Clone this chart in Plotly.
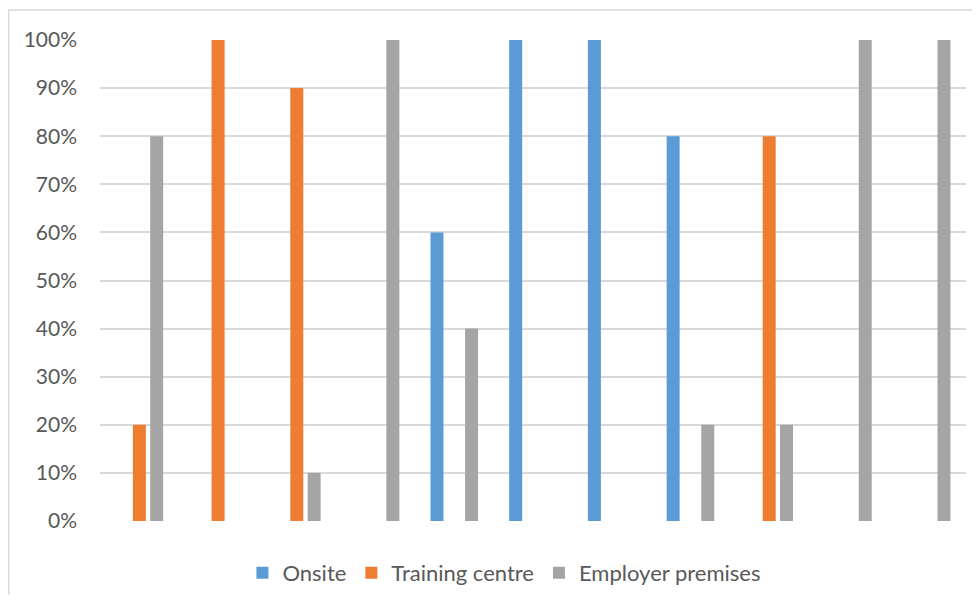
import plotly.graph_objects as go

categories = ["1", "2", "3", "4", "5", "6", "7", "8", "9", "10", "11"]
series_names = ["Onsite", "Training centre", "Employer premises"]
onsite = [0, 0, 0, 0, 0.6, 1.0, 1.0, 0.8, 0, 0, 0]
training_centre = [0.2, 1.0, 0.9, 0, 0, 0, 0, 0, 0.8, 0, 0]
employer_premises = [0.8, 0, 0.1, 1.0, 0.4, 0, 0, 0.2, 0.2, 1.0, 1.0]
y_ticks = [0, 0.1, 0.2, 0.3, 0.4, 0.5, 0.6, 0.7, 0.8, 0.9, 1.0]

colors = ["#5B9BD5", "#ED7D31", "#A5A5A5"]
TEXT = "#595959"
GRID = "#D9D9D9"

fig = go.Figure()
for name, vals, col in zip(series_names, [onsite, training_centre, employer_premises], colors):
    fig.add_trace(go.Bar(x=categories, y=vals, name=name,
                         marker=dict(color=col, line=dict(width=0))))

# outer chart border (cropped at right and bottom in the original)
fig.add_shape(type="rect", xref="paper", yref="paper",
              x0=-0.1055, x1=1.2, y0=-0.3, y1=1.0624,
              line=dict(color=GRID, width=1.5), layer="below")

fig.update_layout(
    width=964, height=587,
    margin=dict(l=92, r=6, t=32, b=74, autoexpand=False),
    plot_bgcolor="white", paper_bgcolor="white",
    barmode="group", bargap=0.34, bargroupgap=0.25,
    font=dict(family="Lato, Carlito, sans-serif", size=21, color=TEXT),
    xaxis=dict(showticklabels=False, showgrid=False, zeroline=False,
               showline=False, ticks=""),
    yaxis=dict(range=[0, 1], tickvals=y_ticks, tickformat=".0%",
               showgrid=True, gridcolor=GRID, gridwidth=1.5,
               zeroline=False, showline=False, ticks="", ticklabelstandoff=22),
    showlegend=True,
    legend=dict(orientation="h", x=0.467, xanchor="center", y=-0.108,
                yanchor="middle", font=dict(size=22, color=TEXT),
                itemwidth=30, traceorder="normal"),
)

fig.write_html("out.html")
